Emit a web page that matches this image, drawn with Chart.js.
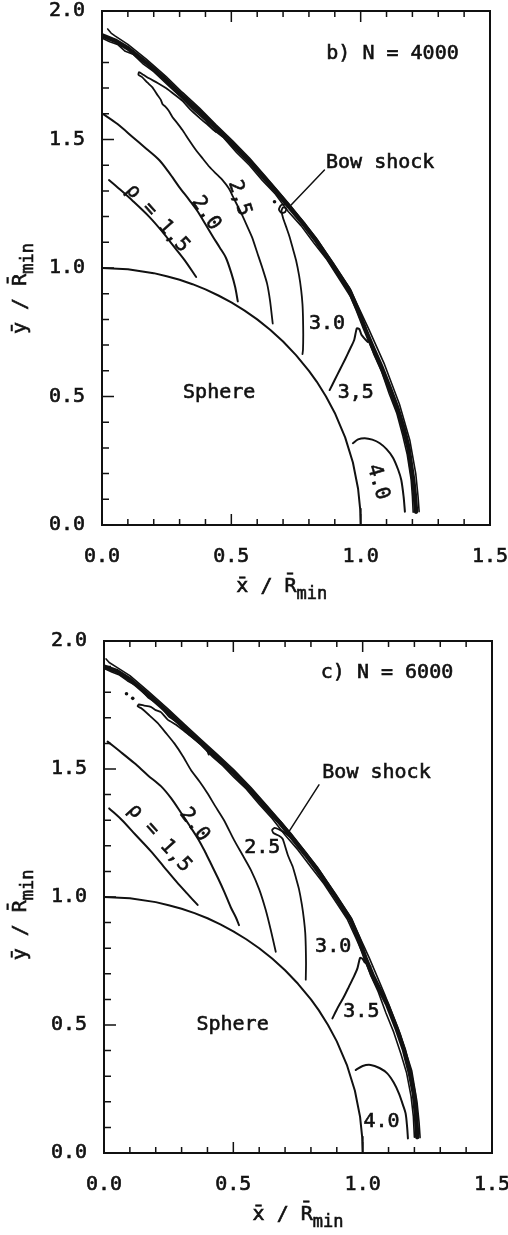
<!DOCTYPE html>
<html>
<head>
<meta charset="utf-8">
<script src="https://cdn.jsdelivr.net/npm/chart.js@4.4.1/dist/chart.umd.min.js"></script>
<style>
  body { margin: 0; background: #fff; }
  .panel { position: relative; width: 508px; }
</style>
</head>
<body>
<div class="panel" style="height:610px"><canvas id="panelB"></canvas></div>
<div class="panel" style="height:625px"><canvas id="panelC"></canvas></div>
<script>
// Density contours behind a sphere, two particle counts (b: N = 4000, c: N = 6000)

// axis tick labels (every 0.5, minor ticks every 0.1)
const xTickLabels = ['0.0', '0.5', '1.0', '1.5'];
const yTickLabels = ['0.0', '0.5', '1.0', '1.5', '2.0'];

// sphere surface (same in both panels)
const sphere = [[0,1],[0.1,0.995],[0.2,0.98],[0.25,0.968],[0.3,0.954],[0.35,0.937],[0.4,0.917],[0.45,0.893],
  [0.5,0.866],[0.55,0.835],[0.6,0.8],[0.65,0.76],[0.7,0.714],[0.75,0.661],[0.8,0.6],[0.83,0.558],[0.866,0.5],
  [0.9,0.436],[0.94,0.341],[0.97,0.243],[0.99,0.141],[0.998,0.063],[1.0,0]];

// ---- panel b) N = 4000 ----
const shockB = [[0.000,1.905],[0.050,1.885],[0.100,1.855],[0.170,1.800],[0.247,1.732],[0.310,1.670],[0.376,1.610],
  [0.440,1.545],[0.505,1.482],[0.570,1.415],[0.634,1.342],[0.680,1.290],[0.725,1.236],[0.780,1.170],[0.828,1.106],
  [0.890,1.015],[0.957,0.912],[0.988,0.838],[1.018,0.760],[1.045,0.695],[1.078,0.620],[1.110,0.540],[1.140,0.460],
  [1.165,0.380],[1.184,0.305],[1.203,0.175],[1.210,0.110],[1.214,0.052]];
const shockOuterB = [[0.022,1.930],[0.035,1.914],[0.050,1.903],[0.100,1.870],[0.170,1.814],[0.247,1.746],[0.310,1.684],
  [0.376,1.623],[0.440,1.558],[0.505,1.495],[0.570,1.428],[0.634,1.354],[0.725,1.247],[0.828,1.117],[0.957,0.922],
  [1.030,0.765],[1.090,0.630],[1.150,0.470],[1.190,0.330],[1.213,0.200],[1.222,0.110],[1.226,0.052]];
const shockInnerB = [[0.000,1.895],[0.030,1.880],[0.060,1.870],[0.090,1.843],[0.120,1.832],[0.160,1.793],[0.200,1.764],
  [0.250,1.716],[0.300,1.670],[0.350,1.619],[0.400,1.574],[0.430,1.538],[0.470,1.507],[0.520,1.450],[0.570,1.400],
  [0.620,1.341],[0.670,1.288],[0.720,1.220],[0.770,1.164],[0.820,1.096],[0.870,1.032],[0.920,0.953],[0.960,0.890],
  [0.990,0.822],[1.020,0.748],[1.050,0.667],[1.080,0.600],[1.110,0.512],[1.140,0.434],[1.163,0.347],[1.180,0.274],
  [1.195,0.178],[1.200,0.112],[1.203,0.050]];
const rho15B = [[0.027,1.342],[0.070,1.305],[0.120,1.260],[0.182,1.200],[0.230,1.145],[0.273,1.090],[0.320,1.030],[0.364,0.965]];
const rho20B = [[0.000,1.602],[0.060,1.560],[0.117,1.511],[0.170,1.465],[0.221,1.420],[0.260,1.370],[0.298,1.316],
  [0.337,1.265],[0.370,1.220],[0.400,1.170],[0.430,1.120],[0.455,1.080],[0.479,1.040],[0.500,0.980],[0.515,0.925],[0.525,0.870]];
const rho25B = [[0.440,1.530],[0.410,1.556],[0.376,1.585],[0.340,1.618],[0.311,1.650],[0.280,1.675],[0.247,1.700],
  [0.215,1.720],[0.182,1.738],[0.160,1.752],[0.143,1.762],[0.141,1.752],[0.156,1.742],[0.175,1.722],[0.195,1.703],
  [0.215,1.672],[0.227,1.655],[0.235,1.636],[0.245,1.628],[0.258,1.612],[0.272,1.588],[0.290,1.565],[0.311,1.537],
  [0.335,1.500],[0.363,1.459],[0.390,1.425],[0.415,1.394],[0.440,1.368],[0.466,1.342],[0.490,1.310],[0.510,1.270],
  [0.535,1.220],[0.558,1.170],[0.580,1.120],[0.600,1.060],[0.620,1.000],[0.638,0.940],[0.650,0.870],[0.660,0.784]];
const rho30B = [[0.728,1.232],[0.712,1.248],[0.692,1.244],[0.684,1.228],[0.693,1.214],[0.708,1.218],[0.712,1.232],
  [0.700,1.236],[0.694,1.222],[0.700,1.195],[0.712,1.160],[0.725,1.122],[0.738,1.075],[0.750,1.031],[0.762,0.970],
  [0.770,0.914],[0.775,0.860],[0.777,0.810],[0.778,0.740],[0.777,0.681],[0.775,0.665]];
const rho35B = [[0.880,0.525],[0.900,0.565],[0.919,0.603],[0.940,0.645],[0.957,0.681],[0.975,0.720],[0.985,0.765],
  [0.995,0.762],[1.003,0.740],[1.015,0.725],[1.028,0.712]];
const rho40B = [[0.970,0.318],[0.990,0.333],[1.016,0.338],[1.045,0.332],[1.074,0.318],[1.100,0.295],[1.125,0.262],
  [1.145,0.215],[1.157,0.175],[1.166,0.110],[1.171,0.052]];
const dotsB = [[0.667,1.258]];
const leaderB = [[0.860,1.381],[0.731,1.245]];

// ---- panel c) N = 6000 ----
const shockC = [[0.000,1.900],[0.050,1.882],[0.100,1.850],[0.170,1.790],[0.246,1.722],[0.310,1.662],[0.375,1.602],
  [0.440,1.542],[0.503,1.483],[0.568,1.415],[0.632,1.342],[0.680,1.290],[0.722,1.238],[0.780,1.165],[0.825,1.105],
  [0.890,1.010],[0.954,0.910],[0.985,0.835],[1.012,0.758],[1.040,0.690],[1.070,0.630],[1.095,0.580],[1.130,0.490],
  [1.160,0.402],[1.182,0.315],[1.198,0.232],[1.206,0.150],[1.211,0.062]];
const shockOuterC = [[0.008,1.930],[0.020,1.916],[0.050,1.897],[0.100,1.865],[0.170,1.804],[0.246,1.736],[0.310,1.675],
  [0.375,1.615],[0.440,1.555],[0.503,1.496],[0.568,1.428],[0.632,1.354],[0.722,1.249],[0.825,1.116],[0.954,0.920],
  [1.025,0.763],[1.085,0.620],[1.145,0.465],[1.190,0.320],[1.210,0.200],[1.218,0.120],[1.222,0.060]];
const shockInnerC = [[0.000,1.893],[0.030,1.879],[0.060,1.867],[0.090,1.845],[0.130,1.822],[0.170,1.779],[0.210,1.754],
  [0.250,1.705],[0.290,1.677],[0.330,1.632],[0.375,1.594],[0.420,1.547],[0.460,1.512],[0.503,1.467],[0.550,1.422],
  [0.600,1.362],[0.650,1.307],[0.700,1.242],[0.750,1.184],[0.800,1.117],[0.850,1.052],[0.900,0.975],[0.940,0.914],
  [0.975,0.837],[1.000,0.780],[1.030,0.697],[1.060,0.630],[1.090,0.547],[1.120,0.472],[1.148,0.387],[1.170,0.312],
  [1.187,0.222],[1.196,0.142],[1.200,0.062]];
const rho15C = [[0.020,1.346],[0.070,1.300],[0.120,1.245],[0.180,1.180],[0.230,1.120],[0.280,1.060],[0.320,1.015],[0.362,0.969]];
const rho20C = [[0.014,1.607],[0.060,1.570],[0.117,1.523],[0.170,1.475],[0.220,1.433],[0.260,1.385],[0.297,1.330],
  [0.330,1.280],[0.365,1.225],[0.390,1.178],[0.413,1.131],[0.440,1.075],[0.465,1.020],[0.490,0.960],[0.510,0.920],[0.522,0.890]];
const rho25C = [[0.430,1.545],[0.418,1.568],[0.400,1.572],[0.405,1.556],[0.395,1.580],[0.360,1.610],[0.320,1.640],
  [0.280,1.672],[0.246,1.693],[0.220,1.722],[0.200,1.730],[0.181,1.743],[0.155,1.748],[0.135,1.752],[0.130,1.745],
  [0.143,1.738],[0.175,1.710],[0.207,1.680],[0.240,1.640],[0.272,1.600],[0.305,1.550],[0.336,1.496],[0.370,1.450],
  [0.400,1.405],[0.430,1.355],[0.464,1.300],[0.503,1.222],[0.535,1.165],[0.568,1.105],[0.600,1.030],[0.625,0.950],
  [0.645,0.870],[0.664,0.786]];
const rho30C = [[0.718,1.235],[0.700,1.250],[0.680,1.262],[0.660,1.270],[0.650,1.262],[0.655,1.250],[0.675,1.240],
  [0.690,1.228],[0.696,1.212],[0.712,1.160],[0.729,1.120],[0.742,1.075],[0.754,1.030],[0.765,0.970],[0.773,0.912],
  [0.778,0.860],[0.780,0.808],[0.781,0.740],[0.780,0.677]];
const rho35C = [[0.883,0.526],[0.905,0.570],[0.928,0.611],[0.947,0.650],[0.966,0.689],[0.980,0.722],[0.990,0.762],
  [1.000,0.758],[1.008,0.745],[1.018,0.738],[1.030,0.728]];
const rho40C = [[0.973,0.324],[1.000,0.340],[1.031,0.344],[1.065,0.332],[1.095,0.311],[1.120,0.275],[1.140,0.233],
  [1.155,0.190],[1.166,0.155],[1.172,0.100],[1.175,0.057]];
const dotsC = [[0.087,1.794],[0.111,1.776]];
const leaderC = [[0.831,1.438],[0.715,1.255]];

const INK = '#111';
const FONT = '20px "DejaVu Sans Mono", monospace';
const SUB_FONT = '17px "DejaVu Sans Mono", monospace';
const TEXT_STROKE = 0.6;   // thickens the thin mono glyphs a little, like the scanned print

function isMajor(v) {
    return Math.abs(v * 2 - Math.round(v * 2)) < 1e-6;
}

function curve(points, width, tension) {
    return {
        data: points.map(p => ({ x: p[0], y: p[1] })),
        showLine: true,
        borderColor: INK,
        borderWidth: width,
        borderCapStyle: 'round',
        borderJoinStyle: 'round',
        pointRadius: 0,
        tension: tension || 0,
        fill: false
    };
}

function dots(points) {
    return {
        data: points.map(p => ({ x: p[0], y: p[1] })),
        showLine: false,
        pointRadius: 1.8,
        pointBackgroundColor: INK,
        pointBorderWidth: 0
    };
}

function inkText(ctx, text, x, y) {
    ctx.fillText(text, x, y);
    ctx.strokeText(text, x, y);
}

// draws "main" followed by a subscript, centred on (cx, cy)
function drawTitle(ctx, cx, cy, angle, main, sub) {
    ctx.save();
    ctx.translate(cx, cy);
    ctx.rotate(angle);
    ctx.font = FONT;
    const w1 = ctx.measureText(main).width;
    ctx.font = SUB_FONT;
    const w2 = ctx.measureText(sub).width;
    const x0 = -(w1 + w2) / 2;
    ctx.textAlign = 'left';
    ctx.textBaseline = 'alphabetic';
    ctx.font = FONT;
    inkText(ctx, main, x0, 7);
    ctx.font = SUB_FONT;
    inkText(ctx, sub, x0 + w1, 14);
    ctx.restore();
}

// frame, inward ticks, axis titles and in-plot annotations
const framePlugin = {
    id: 'frame',
    afterDraw(chart, args, opts) {
        const { ctx, chartArea: a, scales: { x, y } } = chart;
        ctx.save();
        ctx.strokeStyle = INK;
        ctx.lineWidth = 2;
        ctx.strokeRect(a.left, a.top, a.right - a.left, a.bottom - a.top);

        ctx.lineWidth = 1.5;
        ctx.beginPath();
        x.ticks.forEach(t => {
            const px = x.getPixelForValue(t.value);
            const len = isMajor(t.value) ? 11 : 6;
            ctx.moveTo(px, a.bottom); ctx.lineTo(px, a.bottom - len);
            ctx.moveTo(px, a.top); ctx.lineTo(px, a.top + len);
        });
        y.ticks.forEach(t => {
            const py = y.getPixelForValue(t.value);
            const len = isMajor(t.value) ? 12 : 7;
            ctx.moveTo(a.left, py); ctx.lineTo(a.left + len, py);
        });
        ctx.stroke();

        ctx.fillStyle = INK;
        ctx.lineWidth = TEXT_STROKE;
        ctx.font = FONT;
        opts.labels.forEach(l => {
            ctx.save();
            ctx.translate(x.getPixelForValue(l.x), y.getPixelForValue(l.y));
            ctx.rotate((l.rot || 0) * Math.PI / 180);
            ctx.textAlign = l.align || 'center';
            ctx.textBaseline = 'middle';
            inkText(ctx, l.text, 0, 0);
            ctx.restore();
        });

        drawTitle(ctx, x.getPixelForValue(opts.xTitleAt), a.bottom + 60, 0, 'x\u0304 / R\u0304', 'min');
        drawTitle(ctx, 19, y.getPixelForValue(opts.yTitleAt), -Math.PI / 2, '\u0233 / R\u0304', 'min');
        ctx.restore();
    }
};

function noEdgePadding(s) {
    s.paddingLeft = 0; s.paddingRight = 0; s.paddingTop = 0; s.paddingBottom = 0;
}

function makePanel(id, datasets, layout, frame) {
    const tickFont = { family: '"DejaVu Sans Mono", monospace', size: 20 };
    return new Chart(document.getElementById(id), {
        type: 'scatter',
        data: { datasets: datasets },
        options: {
            responsive: true,
            maintainAspectRatio: false,
            animation: false,
            layout: { padding: { top: layout.top, right: layout.right, left: 0, bottom: 0 } },
            plugins: { legend: { display: false }, tooltip: { enabled: false }, frame: frame },
            scales: {
                x: {
                    type: 'linear', min: 0, max: 1.5,
                    grid: { display: false, drawTicks: false },
                    border: { display: false },
                    ticks: {
                        stepSize: 0.1, autoSkip: false, maxRotation: 0, padding: 20,
                        color: INK, font: tickFont,
                        textStrokeColor: INK, textStrokeWidth: TEXT_STROKE,
                        callback: v => isMajor(v) ? xTickLabels[Math.round(v * 2)] : ''
                    },
                    afterFit: s => { s.height = layout.xAxisHeight; noEdgePadding(s); }
                },
                y: {
                    type: 'linear', min: 0, max: 2,
                    grid: { display: false, drawTicks: false },
                    border: { display: false },
                    ticks: {
                        stepSize: 0.1, autoSkip: false, padding: 17,
                        color: INK, font: tickFont,
                        textStrokeColor: INK, textStrokeWidth: TEXT_STROKE,
                        callback: v => isMajor(v) ? yTickLabels[Math.round(v * 2)] : ''
                    },
                    afterFit: s => { s.width = layout.yAxisWidth; noEdgePadding(s); }
                }
            }
        },
        plugins: [framePlugin]
    });
}

makePanel('panelB', [
    curve(sphere, 2),
    curve(shockB, 4.5), curve(shockOuterB, 1.6), curve(shockInnerB, 1.6),
    curve(rho15B, 2, 0.3), curve(rho20B, 2, 0.3), curve(rho25B, 1.8, 0.2),
    curve(rho30B, 1.8, 0.2), curve(rho35B, 2, 0.2), curve(rho40B, 2, 0.3),
    curve(leaderB, 1.5), dots(dotsB)
], { top: 11, right: 18, xAxisHeight: 85, yAxisWidth: 102 }, {
    xTitleAt: 0.695, yTitleAt: 0.92,
    labels: [
        { text: 'b) N = 4000', x: 0.867, y: 1.833, align: 'left' },
        { text: 'Bow shock', x: 0.866, y: 1.409, align: 'left' },
        { text: 'ρ = 1,5', x: 0.214, y: 1.193, rot: 48 },
        { text: '2.0', x: 0.402, y: 1.213, rot: 56 },
        { text: '2,5', x: 0.531, y: 1.272, rot: 72 },
        { text: '3.0', x: 0.870, y: 0.784 },
        { text: '3,5', x: 0.981, y: 0.514 },
        { text: '4.0', x: 1.066, y: 0.167, rot: 74 },
        { text: 'Sphere', x: 0.453, y: 0.514 }
    ]
});

makePanel('panelC', [
    curve(sphere, 2),
    curve(shockC, 4.5), curve(shockOuterC, 1.6), curve(shockInnerC, 1.6),
    curve(rho15C, 2, 0.3), curve(rho20C, 2, 0.3), curve(rho25C, 1.8, 0.2),
    curve(rho30C, 1.8, 0.2), curve(rho35C, 2, 0.2), curve(rho40C, 2, 0.3),
    curve(leaderC, 1.5), dots(dotsC)
], { top: 31, right: 16, xAxisHeight: 82, yAxisWidth: 104 }, {
    xTitleAt: 0.75, yTitleAt: 0.93,
    labels: [
        { text: 'c) N = 6000', x: 0.838, y: 1.875, align: 'left' },
        { text: 'Bow shock', x: 0.844, y: 1.484, align: 'left' },
        { text: 'ρ = 1,5', x: 0.214, y: 1.230, rot: 48 },
        { text: '2.0', x: 0.349, y: 1.282, rot: 53 },
        { text: '2.5', x: 0.612, y: 1.191 },
        { text: '3.0', x: 0.886, y: 0.804 },
        { text: '3.5', x: 0.995, y: 0.552 },
        { text: '4.0', x: 1.073, y: 0.122 },
        { text: 'Sphere', x: 0.497, y: 0.500 }
    ]
});
</script>
</body>
</html>
